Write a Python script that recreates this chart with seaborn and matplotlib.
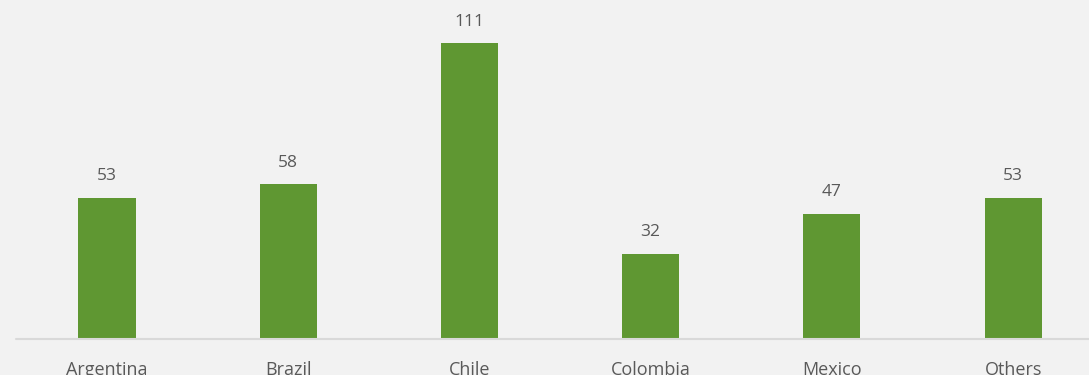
import matplotlib.pyplot as plt
import seaborn as sns
import pandas as pd

# Chart data
countries = ["Argentina", "Brazil", "Chile", "Colombia", "Mexico", "Others"]
values = [53, 58, 111, 32, 47, 53]

df = pd.DataFrame({"country": countries, "value": values})

sns.set_style("white")
plt.rcParams["font.family"] = ["Open Sans", "DejaVu Sans"]

bg = "#f2f2f2"
green = "#5f9732"
text_col = "#595959"

fig = plt.figure(figsize=(10.89, 3.75), dpi=100, facecolor=bg)
ax = fig.add_axes([0, 1 - 339 / 375, 1, 339 / 375])
ax.set_facecolor(bg)

sns.barplot(data=df, x="country", y="value", color=green, width=0.315,
            saturation=1, linewidth=0, ax=ax)

ax.set_xlim(-0.5905, 5.419)
ax.set_ylim(0, 127.1)

for i, v in enumerate(values):
    ax.text(i, v + 5, str(v), ha="center", va="bottom", fontsize=12.5,
            color=text_col)

ax.axhline(0, xmin=16 / 1089, xmax=1, color="#d9d9d9", lw=1.5, clip_on=False)

for s in ax.spines.values():
    s.set_visible(False)
ax.set_yticks([])
ax.set_xlabel("")
ax.set_ylabel("")
ax.tick_params(axis="x", length=0, pad=16, labelsize=13, labelcolor=text_col)

fig.savefig("out.png", dpi=100, facecolor=bg)
